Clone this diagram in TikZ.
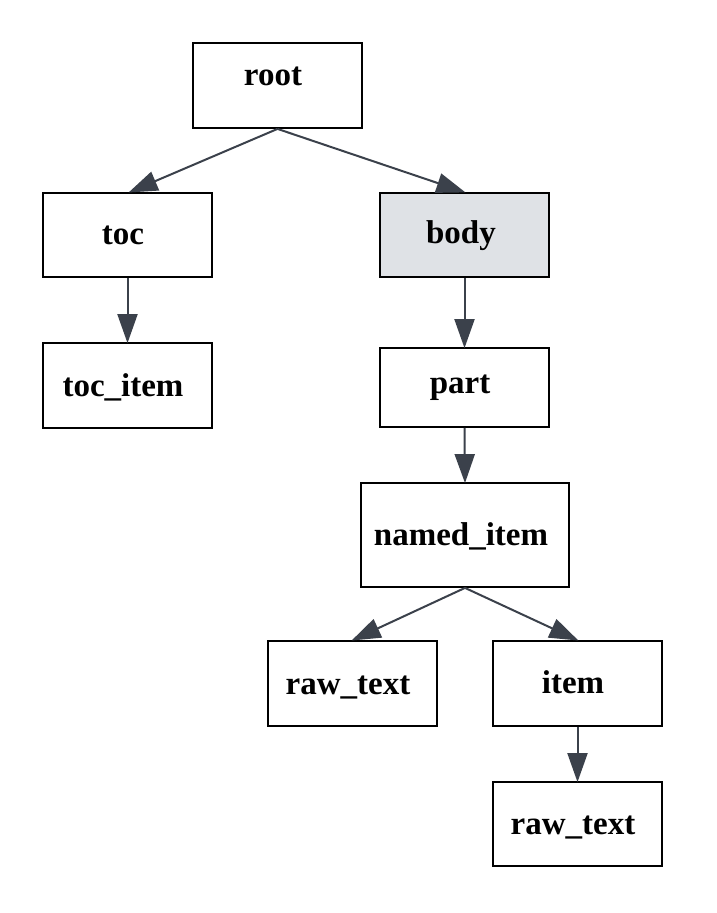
\documentclass[tikz,border=0pt]{standalone}
\usepackage{fontspec}
\setmainfont{Liberation Serif}
\usetikzlibrary{arrows.meta}
\definecolor{edgec}{HTML}{3B414B}
\definecolor{bodyfill}{HTML}{DFE2E6}
\begin{document}
\begin{tikzpicture}[x=1pt,y=-1pt,
  box/.style={draw=black,line width=1.8pt,fill=white,inner sep=0pt},
  lbl/.style={anchor=base,inner sep=0pt,font=\fontsize{33}{36}\selectfont\bfseries,text=black},
  edge/.style={draw=edgec,line width=2pt,-{Triangle[length=29pt,width=20pt]},shorten >=-1pt}]
\useasboundingbox (0,0) rectangle (716,913);
\node[box,minimum width=169pt,minimum height=85pt] (root) at (277.5,85.5) {};
\node[box,minimum width=169pt,minimum height=84pt] (toc) at (127.5,235) {};
\node[box,fill=bodyfill,minimum width=169pt,minimum height=84pt] (body) at (464.5,235) {};
\node[box,minimum width=169pt,minimum height=85pt] (tocitem) at (127.5,385.5) {};
\node[box,minimum width=169pt,minimum height=79pt] (part) at (464.5,387.5) {};
\node[box,minimum width=208pt,minimum height=104pt] (named) at (465,535) {};
\node[box,minimum width=169pt,minimum height=85pt] (raw1) at (352.5,683.5) {};
\node[box,minimum width=169pt,minimum height=85pt] (item) at (577.5,683.5) {};
\node[box,minimum width=169pt,minimum height=84pt] (raw2) at (577.5,824) {};
\node[lbl] (rootl) at (273,85) {root};
\node[lbl] (tocl) at (123,244) {toc};
\node[lbl] (bodyl) at (461,243) {body};
\node[lbl] (tociteml) at (123,396) {toc\_item};
\node[lbl] (partl) at (460,393) {part};
\node[lbl] (namedl) at (461,545) {named\_item};
\node[lbl] (raw1l) at (348,694) {raw\_text};
\node[lbl] (iteml) at (573,693) {item};
\node[lbl] (raw2l) at (573,834) {raw\_text};
\draw[edge] (root.south) -- ([xshift=2pt]toc.north);
\draw[edge] (root.south) -- (body.north);
\draw[edge] (toc.south) -- (tocitem.north);
\draw[edge] (body.south) -- (part.north);
\draw[edge] (part.south) -- (named.north);
\draw[edge] (named.south) -- (raw1.north);
\draw[edge] (named.south) -- (item.north);
\draw[edge] (item.south) -- (raw2.north);
\end{tikzpicture}
\end{document}
